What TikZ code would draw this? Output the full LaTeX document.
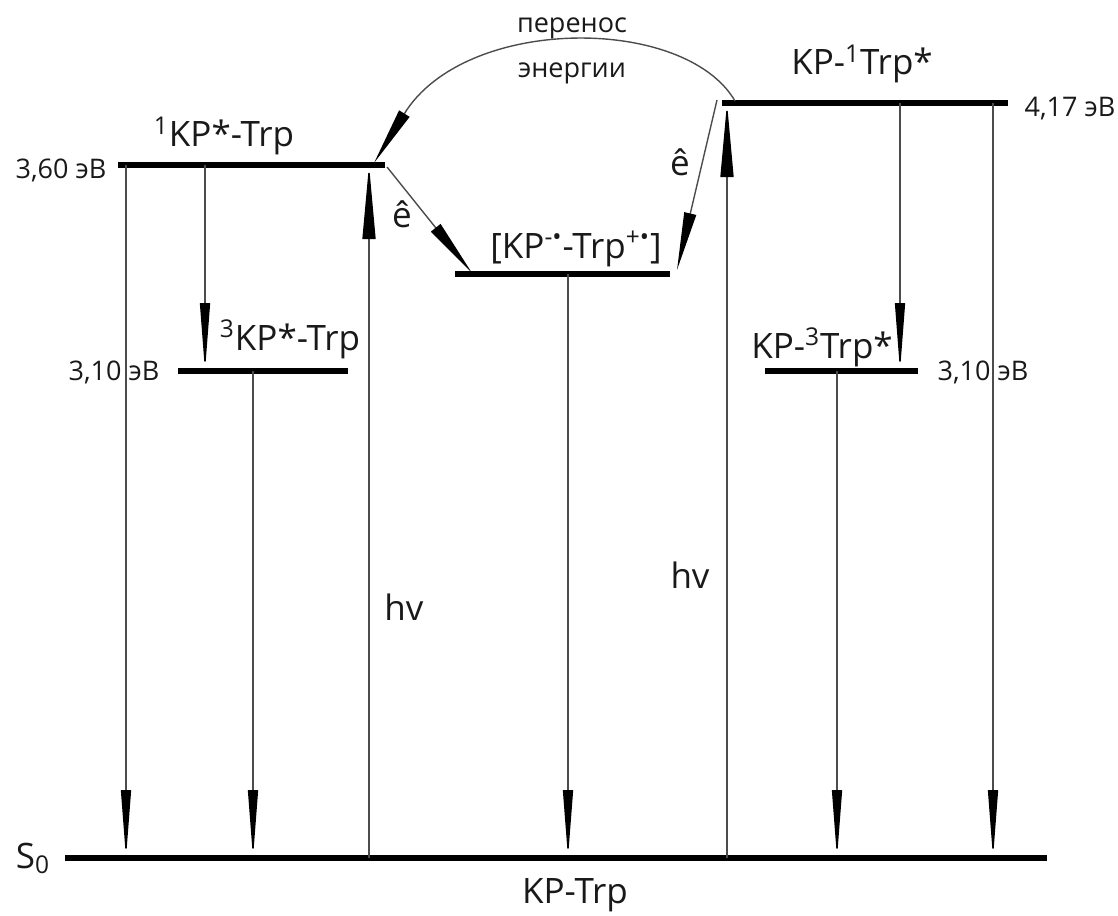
\documentclass[tikz,border=0pt]{standalone}
\usepackage{fontspec}
\setmainfont{Open Sans}
\usetikzlibrary{arrows.meta}
\begin{document}
\begin{tikzpicture}[x=0.5pt,y=-0.5pt,
  level/.style={line width=3pt,draw=black},
  trans/.style={line width=0.7pt,draw=black!70,-{Triangle[length=34pt,width=5pt,color=black]}},
  uptrans/.style={line width=0.7pt,draw=black!70,-{Triangle[length=37pt,width=6.5pt,color=black]}},
  etrans/.style={line width=0.7pt,draw=black!70,-{Triangle[length=29pt,width=6pt,color=black]}},
  big/.style={font=\fontsize{17.5}{20}\selectfont,text=black!90,inner sep=0pt,anchor=base},
  small/.style={font=\fontsize{13.5}{16}\selectfont,text=black!90,inner sep=0pt,anchor=base}]
\useasboundingbox (0,0) rectangle (1118,915);
% levels
\coordinate (L1a) at (118,165); \coordinate (L1b) at (385,165);
\coordinate (L3a) at (178,371); \coordinate (L3b) at (348,371);
\coordinate (LRa) at (455,274); \coordinate (LRb) at (670,274);
\coordinate (L2a) at (722,103); \coordinate (L2b) at (1008,103);
\coordinate (L4a) at (765,371); \coordinate (L4b) at (918,371);
\coordinate (S0a) at (65,858);  \coordinate (S0b) at (1047,858);
\draw[level] (L1a) -- (L1b);
\draw[level] (L3a) -- (L3b);
\draw[level] (LRa) -- (LRb);
\draw[level] (L2a) -- (L2b);
\draw[level] (L4a) -- (L4b);
\draw[level] (S0a) -- (S0b);
% arrow end points
\coordinate (t1) at (126,165); \coordinate (b1) at (126,858);
\coordinate (t2) at (205,165); \coordinate (b2) at (205,371);
\coordinate (t3) at (253,371); \coordinate (b3) at (253,858);
\coordinate (t4) at (369,165); \coordinate (b4) at (369,858);
\coordinate (t5) at (568,274); \coordinate (b5) at (568,858);
\coordinate (t6) at (727,103); \coordinate (b6) at (727,858);
\coordinate (t7) at (837,371); \coordinate (b7) at (837,858);
\coordinate (t8) at (900,103); \coordinate (b8) at (900,371);
\coordinate (t9) at (993,103); \coordinate (b9) at (993,858);
\coordinate (e1s) at (387,167); \coordinate (e1e) at (472,273);
\coordinate (e2s) at (717,100); \coordinate (e2e) at (677,270);
\coordinate (cs) at (735,101);  \coordinate (ce) at (374,163);
\draw[trans] (t1) -- (b1);
\draw[trans] (t2) -- (b2);
\draw[trans] (t3) -- (b3);
\draw[uptrans] (b4) -- (t4);
\draw[trans] (t5) -- (b5);
\draw[uptrans] (b6) -- (t6);
\draw[trans] (t7) -- (b7);
\draw[trans] (t8) -- (b8);
\draw[trans] (t9) -- (b9);
\draw[etrans] (e1s) -- (e1e);
\draw[etrans] (e2s) -- (e2e);
\draw[etrans] (cs) .. controls (685,15) and (465,15) .. (ce);
% labels
\node[big] (n1) at (224,147) {\textsuperscript{1}KP*-Trp};
\node[small] (v1) at (61,178) {3,60 эВ};
\node[big] (n3) at (290,350) {\textsuperscript{3}KP*-Trp};
\node[small] (v3) at (114,380) {3,10 эВ};
\node[big] (nr) at (576,258) {[KP\textsuperscript{-•}-Trp\textsuperscript{+•}]};
\node[small] (p1) at (572,33) {перенос};
\node[small] (p2) at (572,78) {энергии};
\node[big] (ea) at (402,227) {ê};
\node[big] (eb) at (680,175) {ê};
\node[big] (n2) at (862,75) {KP-\textsuperscript{1}Trp*};
\node[small] (v2) at (1070,117) {4,17 эВ};
\node[big] (n4) at (822,358) {KP-\textsuperscript{3}Trp*};
\node[small] (v4) at (983,380) {3,10 эВ};
\node[big] (h1) at (404,620) {hv};
\node[big] (h2) at (690,588) {hv};
\node[big] (s0) at (33,868) {S\textsubscript{0}};
\node[big] (g) at (575,903) {KP-Trp};
\end{tikzpicture}
\end{document}
